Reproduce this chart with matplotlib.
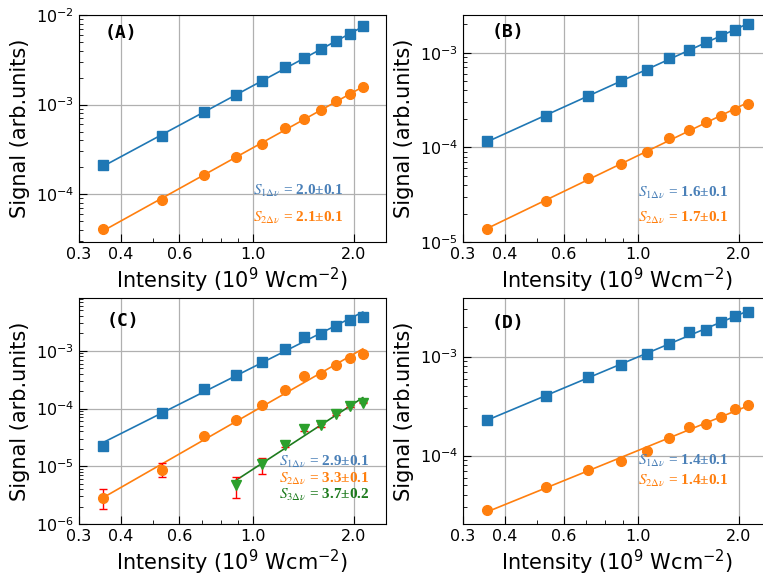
import numpy as np
import matplotlib
matplotlib.use("Agg")
import matplotlib.pyplot as plt
from matplotlib.ticker import FixedLocator, FixedFormatter, LogLocator, NullFormatter

# intensity (1e9 W/cm^2), same for every panel
intensity = [0.355, 0.533, 0.71, 0.888, 1.065, 1.243, 1.42, 1.598, 1.775, 1.953, 2.13]

# (A)
a_s1 = [2.11e-4, 4.48e-4, 8.3e-4, 1.27e-3, 1.82e-3, 2.62e-3, 3.31e-3, 4.17e-3, 5.11e-3, 6.17e-3, 7.45e-3]
a_s2 = [4.06e-5, 8.53e-5, 1.66e-4, 2.59e-4, 3.65e-4, 5.46e-4, 6.87e-4, 8.8e-4, 1.09e-3, 1.30e-3, 1.57e-3]
# (B)
b_s1 = [1.17e-4, 2.14e-4, 3.48e-4, 4.98e-4, 6.56e-4, 8.79e-4, 1.06e-3, 1.30e-3, 1.51e-3, 1.74e-3, 2.01e-3]
b_s2 = [1.36e-5, 2.73e-5, 4.75e-5, 6.72e-5, 8.93e-5, 1.26e-4, 1.51e-4, 1.84e-4, 2.16e-4, 2.50e-4, 2.87e-4]
# (C)
c_s1 = [2.24e-5, 8.2e-5, 2.21e-4, 3.85e-4, 6.38e-4, 1.07e-3, 1.74e-3, 1.99e-3, 2.70e-3, 3.42e-3, 3.91e-3]
c_s2 = [2.85e-6, 8.5e-6, 3.29e-5, 6.29e-5, 1.13e-4, 2.10e-4, 3.66e-4, 3.91e-4, 5.67e-4, 7.57e-4, 8.88e-4]
c_s2_lo = [1.05e-6, 2.0e-6, 1.5e-6, 2.5e-6, 4e-6, 6e-6, 1e-5, 1e-5, 1.5e-5, 2e-5, 2e-5]
c_s2_hi = [1.15e-6, 2.8e-6, 1.5e-6, 2.5e-6, 4e-6, 6e-6, 1e-5, 1e-5, 1.5e-5, 2e-5, 2e-5]
c_s3_x = [0.888, 1.065, 1.243, 1.42, 1.598, 1.775, 1.953, 2.13]
c_s3 = [4.8e-6, 1.08e-5, 2.33e-5, 4.5e-5, 5.15e-5, 7.9e-5, 1.1e-4, 1.27e-4]
c_s3_lo = [2.0e-6, 3.5e-6, 2.0e-6, 5e-6, 3e-6, 3e-6, 3e-6, 3e-6]
c_s3_hi = [1.7e-6, 3.2e-6, 2.0e-6, 5e-6, 3e-6, 3e-6, 3e-6, 3e-6]
# (D)
d_s1 = [2.29e-4, 4.01e-4, 6.28e-4, 8.17e-4, 1.05e-3, 1.35e-3, 1.75e-3, 1.86e-3, 2.24e-3, 2.59e-3, 2.80e-3]
d_s2 = [2.81e-5, 4.83e-5, 7.17e-5, 8.89e-5, 1.12e-4, 1.50e-4, 1.95e-4, 2.07e-4, 2.46e-4, 2.96e-4, 3.22e-4]

slopes = {
    "A": ["2.0±0.1", "2.1±0.1"],
    "B": ["1.6±0.1", "1.7±0.1"],
    "C": ["2.9±0.1", "3.3±0.1", "3.7±0.2"],
    "D": ["1.4±0.1", "1.4±0.1"],
}

BLUE = "#1f77b4"
ORANGE = "#ff7f0e"
GREEN = "#2ca02c"
DKGREEN = "#1e7b1e"
TXT_BLUE = "#4a80b8"


def fit_line(ax, x, y, color):
    x = np.asarray(x)
    p = np.polyfit(np.log10(x), np.log10(y), 1)
    xx = np.array([x[0], x[-1]])
    ax.plot(xx, 10 ** np.polyval(p, np.log10(xx)), "-", color=color, lw=1.2, zorder=2)


def style(ax, ylim):
    ax.set_xscale("log")
    ax.set_yscale("log")
    ax.set_xlim(0.3, 2.5)
    ax.set_ylim(*ylim)
    ax.xaxis.set_major_locator(FixedLocator([0.3, 0.4, 0.6, 1.0, 2.0]))
    ax.xaxis.set_major_formatter(FixedFormatter(["0.3", "0.4", "0.6", "1.0", "2.0"]))
    ax.xaxis.set_minor_locator(FixedLocator([0.5, 0.7, 0.8, 0.9]))
    ax.xaxis.set_minor_formatter(NullFormatter())
    ax.yaxis.set_minor_locator(LogLocator(base=10, subs=np.arange(2, 10)))
    ax.yaxis.set_minor_formatter(NullFormatter())
    ax.tick_params(which="both", direction="in", labelsize=11.5)
    ax.tick_params(which="major", length=6)
    ax.tick_params(which="minor", length=3)
    ax.grid(True, which="major", color="#b0b0b0", lw=0.9)
    ax.set_axisbelow(True)
    ax.set_xlabel("Intensity (10$^9$ Wcm$^{-2}$)", fontsize=15, labelpad=3)
    ax.set_ylabel("Signal (arb.units)", fontsize=15)


def slope_text(ax, x, y, idx, val, color):
    ax.text(x, y, f"$S_{{{idx}\\Delta\\nu}}$ = {val}", transform=ax.transAxes,
            color=color, fontsize=11, family="Liberation Serif", weight="bold",
            math_fontfamily="stix")


def panel_label(ax, x, y, s):
    ax.text(x, y, s, transform=ax.transAxes, fontsize=13, weight="bold",
            family="DejaVu Sans Mono", va="center")


fig = plt.figure(figsize=(7.63, 5.76), dpi=100)
W, H = 763, 576
def axes_at(l, t, r, b):
    return fig.add_axes([l / W, 1 - b / H, (r - l) / W, (b - t) / H])

axA = axes_at(79, 15, 386, 242)
axB = axes_at(463, 15, 771, 242)
axC = axes_at(79, 298, 386, 524)
axD = axes_at(463, 298, 771, 524)

ms = 7
# (A)
fit_line(axA, intensity, a_s1, BLUE)
fit_line(axA, intensity, a_s2, ORANGE)
axA.plot(intensity, a_s1, "s", color=BLUE, ms=ms, zorder=3)
axA.plot(intensity, a_s2, "o", color=ORANGE, ms=ms, zorder=3)
style(axA, (2.93e-5, 1e-2))
panel_label(axA, 0.085, 0.92, "(A)")
slope_text(axA, 0.567, 0.207, 1, slopes["A"][0], TXT_BLUE)
slope_text(axA, 0.567, 0.088, 2, slopes["A"][1], ORANGE)

# (B)
fit_line(axB, intensity, b_s1, BLUE)
fit_line(axB, intensity, b_s2, ORANGE)
axB.plot(intensity, b_s1, "s", color=BLUE, ms=ms, zorder=3)
axB.plot(intensity, b_s2, "o", color=ORANGE, ms=ms, zorder=3)
style(axB, (1e-5, 2.5e-3))
panel_label(axB, 0.094, 0.925, "(B)")
slope_text(axB, 0.568, 0.198, 1, slopes["B"][0], TXT_BLUE)
slope_text(axB, 0.568, 0.088, 2, slopes["B"][1], ORANGE)

# (C)
fit_line(axC, intensity, c_s1, BLUE)
fit_line(axC, intensity, c_s2, ORANGE)
fit_line(axC, c_s3_x, c_s3, DKGREEN)
axC.plot(intensity, c_s1, "s", color=BLUE, ms=ms, zorder=3)
axC.errorbar(intensity, c_s2, yerr=[c_s2_lo, c_s2_hi], fmt="o", color=ORANGE,
             ecolor="red", elinewidth=1, capsize=3, ms=ms, zorder=3)
axC.errorbar(c_s3_x, c_s3, yerr=[c_s3_lo, c_s3_hi], fmt="v", color=GREEN,
             ecolor="red", elinewidth=1, capsize=3, ms=ms, zorder=3)
style(axC, (1e-6, 8.2e-3))
panel_label(axC, 0.09, 0.90, "(C)")
slope_text(axC, 0.65, 0.255, 1, slopes["C"][0], TXT_BLUE)
slope_text(axC, 0.65, 0.183, 2, slopes["C"][1], ORANGE)
slope_text(axC, 0.65, 0.11, 3, slopes["C"][2], DKGREEN)

# (D)
fit_line(axD, intensity, d_s1, BLUE)
fit_line(axD, intensity, d_s2, ORANGE)
axD.plot(intensity, d_s1, "s", color=BLUE, ms=ms, zorder=3)
axD.plot(intensity, d_s2, "o", color=ORANGE, ms=ms, zorder=3)
style(axD, (2.04e-5, 3.9e-3))
panel_label(axD, 0.094, 0.89, "(D)")
slope_text(axD, 0.568, 0.26, 1, slopes["D"][0], TXT_BLUE)
slope_text(axD, 0.568, 0.172, 2, slopes["D"][1], ORANGE)

fig.savefig("out.png", dpi=100)
